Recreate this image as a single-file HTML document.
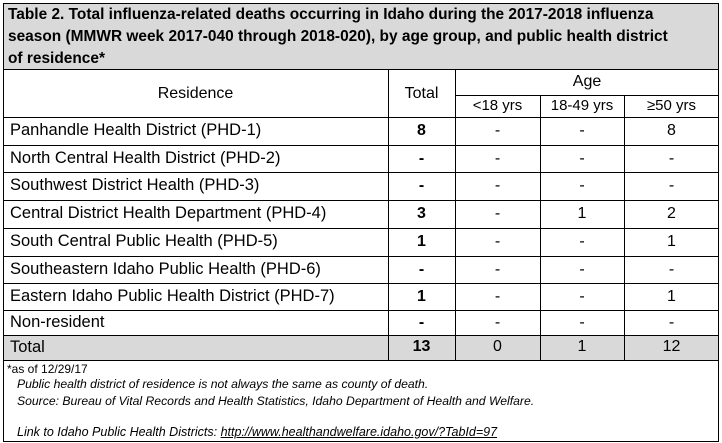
<!DOCTYPE html>
<html><head><style>
body{margin:0;width:722px;height:443px;background:#fff;font-family:"Liberation Sans",sans-serif;position:relative;overflow:hidden;color:#000}
.a{position:absolute;white-space:nowrap}
.h{position:absolute;background:#000}
.c{text-align:center}
</style></head><body>
<div class="a" style="left:3px;top:3px;width:716px;height:66px;background:#d9d9d9"></div>
<div class="a" style="left:3px;top:335px;width:716px;height:25px;background:#d9d9d9"></div>
<div class="a" style="left:3px;top:3px;width:714px;height:437px;border:1px solid #000"></div>
<div class="a" style="left:8px;top:4px;font-weight:bold;font-size:16px;line-height:22px;transform:scaleX(0.965);transform-origin:left">Table 2. Total influenza-related deaths occurring in Idaho during the 2017-2018 influenza<br>season (MMWR week 2017-040 through 2018-020), by age group, and public health district<br>of residence*</div>
<div class="h" style="left:3px;top:69px;width:716px;height:1px"></div>
<div class="h" style="left:455px;top:95px;width:264px;height:1px"></div>
<div class="h" style="left:3px;top:117px;width:716px;height:1px"></div>
<div class="h" style="left:3px;top:145px;width:716px;height:1px"></div>
<div class="h" style="left:3px;top:172px;width:716px;height:1px"></div>
<div class="h" style="left:3px;top:200px;width:716px;height:1px"></div>
<div class="h" style="left:3px;top:228px;width:716px;height:1px"></div>
<div class="h" style="left:3px;top:256px;width:716px;height:1px"></div>
<div class="h" style="left:3px;top:283px;width:716px;height:1px"></div>
<div class="h" style="left:3px;top:310px;width:716px;height:1px"></div>
<div class="h" style="left:3px;top:335px;width:716px;height:1px"></div>
<div class="h" style="left:3px;top:360px;width:716px;height:1px"></div>
<div class="h" style="left:388px;top:69px;width:1px;height:291px"></div>
<div class="h" style="left:455px;top:69px;width:1px;height:291px"></div>
<div class="h" style="left:540px;top:95px;width:1px;height:265px"></div>
<div class="h" style="left:624px;top:95px;width:1px;height:265px"></div>
<div style="font-size:16px">
<div class="a c" style="left:3px;width:385px;top:85px">Residence</div>
<div class="a c" style="left:388px;width:67px;top:85px">Total</div>
<div class="a c" style="left:455px;width:264px;top:73px">Age</div>
<div class="a c" style="left:455px;width:85px;top:97px;font-size:15px">&lt;18 yrs</div>
<div class="a c" style="left:540px;width:84px;top:97px;font-size:15px">18-49 yrs</div>
<div class="a c" style="left:624px;width:95px;top:97px;font-size:15px">≥50 yrs</div>
</div>
<div style="font-size:16.5px">
<div class="a" style="left:10px;top:121px">Panhandle Health District (PHD-1)</div>
<div class="a" style="left:10px;top:149px">North Central Health District (PHD-2)</div>
<div class="a" style="left:10px;top:176px">Southwest District Health (PHD-3)</div>
<div class="a" style="left:10px;top:204px">Central District Health Department (PHD-4)</div>
<div class="a" style="left:10px;top:232px">South Central Public Health (PHD-5)</div>
<div class="a" style="left:10px;top:260px">Southeastern Idaho Public Health (PHD-6)</div>
<div class="a" style="left:10px;top:287px">Eastern Idaho Public Health District (PHD-7)</div>
<div class="a" style="left:10px;top:313px">Non-resident</div>
<div class="a" style="left:10px;top:338px">Total</div>
</div>
<div style="font-size:16px">
<div class="a c" style="left:388px;width:67px;top:122px;font-weight:bold">8</div>
<div class="a c" style="left:388px;width:67px;top:150px;font-weight:bold">-</div>
<div class="a c" style="left:388px;width:67px;top:177px;font-weight:bold">-</div>
<div class="a c" style="left:388px;width:67px;top:205px;font-weight:bold">3</div>
<div class="a c" style="left:388px;width:67px;top:233px;font-weight:bold">1</div>
<div class="a c" style="left:388px;width:67px;top:261px;font-weight:bold">-</div>
<div class="a c" style="left:388px;width:67px;top:288px;font-weight:bold">1</div>
<div class="a c" style="left:388px;width:67px;top:314px;font-weight:bold">-</div>
<div class="a c" style="left:388px;width:67px;top:338px;font-weight:bold">13</div>
<div class="a c" style="left:455px;width:85px;top:122px">-</div>
<div class="a c" style="left:455px;width:85px;top:150px">-</div>
<div class="a c" style="left:455px;width:85px;top:177px">-</div>
<div class="a c" style="left:455px;width:85px;top:205px">-</div>
<div class="a c" style="left:455px;width:85px;top:233px">-</div>
<div class="a c" style="left:455px;width:85px;top:261px">-</div>
<div class="a c" style="left:455px;width:85px;top:288px">-</div>
<div class="a c" style="left:455px;width:85px;top:314px">-</div>
<div class="a c" style="left:455px;width:85px;top:338px">0</div>
<div class="a c" style="left:540px;width:84px;top:122px">-</div>
<div class="a c" style="left:540px;width:84px;top:150px">-</div>
<div class="a c" style="left:540px;width:84px;top:177px">-</div>
<div class="a c" style="left:540px;width:84px;top:205px">1</div>
<div class="a c" style="left:540px;width:84px;top:233px">-</div>
<div class="a c" style="left:540px;width:84px;top:261px">-</div>
<div class="a c" style="left:540px;width:84px;top:288px">-</div>
<div class="a c" style="left:540px;width:84px;top:314px">-</div>
<div class="a c" style="left:540px;width:84px;top:338px">1</div>
<div class="a c" style="left:624px;width:95px;top:122px">8</div>
<div class="a c" style="left:624px;width:95px;top:150px">-</div>
<div class="a c" style="left:624px;width:95px;top:177px">-</div>
<div class="a c" style="left:624px;width:95px;top:205px">2</div>
<div class="a c" style="left:624px;width:95px;top:233px">1</div>
<div class="a c" style="left:624px;width:95px;top:261px">-</div>
<div class="a c" style="left:624px;width:95px;top:288px">1</div>
<div class="a c" style="left:624px;width:95px;top:314px">-</div>
<div class="a c" style="left:624px;width:95px;top:338px">12</div>
</div>
<div class="a" style="left:7px;top:362px;font-size:12px">*as of 12/29/17</div>
<div class="a" style="left:17px;top:377px;font-size:12.2px;font-style:italic">Public health district of residence is not always the same as county of death.</div>
<div class="a" style="left:17px;top:394px;font-size:12.2px;font-style:italic">Source: Bureau of Vital Records and Health Statistics, Idaho Department of Health and Welfare.</div>
<div class="a" style="left:17px;top:425px;font-size:12.5px;font-style:italic">Link to Idaho Public Health Districts: <span style="text-decoration:underline">http://www.healthandwelfare.idaho.gov/?TabId=97</span></div>
</body></html>
